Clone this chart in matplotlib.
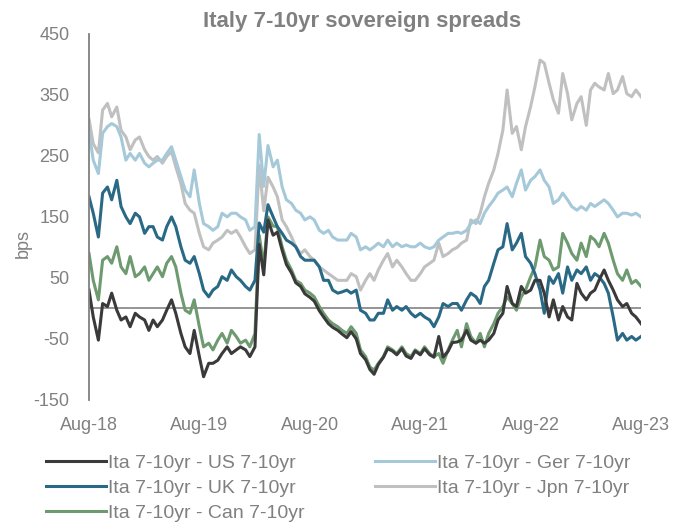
import matplotlib
matplotlib.use("Agg")
import matplotlib.pyplot as plt
import matplotlib.dates as mdates
import pandas as pd

# semi-monthly readings, Aug-18 .. Aug-23 (bps)
dates = pd.date_range("2018-08-01", "2023-08-01", freq="SMS")

us = [30, -14, -52, 8, 3, 25, -3, -19, -14, -30, -8, -14, -19, -36, -19, -30, -19, -3, 14, -8,
      -41, -63, -74, -36, -79, -112, -90, -90, -85, -74, -63, -74, -68, -63, -68, -79, -63, 105, 55, 145,
      120, 125, 95, 72, 58, 42, 36, 24, 18, 12, -4, -14, -25, -31, -36, -42, -48, -38, -50, -74,
      -84, -100, -108, -92, -80, -66, -70, -76, -66, -78, -82, -70, -76, -66, -76, -80, -46, -80, -70, -56,
      -55, -52, -36, -52, -57, -52, -57, -52, -41, -19, -8, 36, 8, 3, 36, 25, 30, 46, 46, 25,
      -14, 14, -19, 3, -14, -19, 41, 25, 14, 25, 30, 46, 63, 46, 30, 14, 3, 8, -8, -14, -25]

ger = [290, 243, 221, 287, 298, 303, 298, 281, 243, 254, 243, 254, 238, 232, 238, 243, 243, 254, 265, 243,
       216, 194, 183, 227, 172, 139, 134, 128, 134, 156, 150, 156, 156, 150, 145, 128, 134, 285, 200, 267,
       232, 243, 199, 178, 172, 161, 156, 145, 150, 145, 128, 123, 128, 117, 112, 112, 112, 123, 117, 96,
       101, 96, 101, 107, 101, 112, 101, 107, 101, 104, 101, 101, 107, 101, 98, 101, 112, 117, 123, 123,
       125, 123, 128, 139, 145, 139, 156, 167, 178, 189, 194, 199, 183, 205, 227, 194, 210, 216, 227, 210,
       199, 172, 178, 189, 178, 167, 161, 167, 161, 172, 167, 172, 178, 172, 161, 150, 156, 156, 153, 156, 150]

uk = [183, 156, 117, 189, 199, 178, 210, 167, 150, 139, 156, 150, 123, 134, 134, 117, 112, 134, 150, 134,
      101, 79, 74, 85, 57, 30, 19, 30, 36, 52, 46, 63, 52, 46, 36, 30, 46, 140, 125, 170,
      150, 134, 123, 112, 107, 101, 85, 79, 79, 79, 68, 46, 46, 30, 25, 27, 30, 25, 30, -3,
      -8, -19, -19, -8, -8, 14, -3, 3, -3, 3, -8, -14, -8, -14, -19, -30, -14, 8, 3, 8,
      8, -3, 14, 25, 19, 8, 36, 46, 74, 96, 101, 139, 96, 107, 123, 85, 74, 57, 30, -8,
      52, 41, 57, 25, 68, 46, 63, 57, 68, 46, 57, 52, 41, 25, -14, -52, -41, -52, -46, -52, -46]

jpn = [310, 270, 255, 325, 336, 314, 330, 292, 281, 260, 276, 281, 260, 249, 243, 249, 238, 249, 257, 232,
       205, 172, 161, 156, 123, 101, 96, 107, 112, 117, 128, 123, 128, 117, 101, 90, 96, 235, 160, 215,
       199, 183, 145, 134, 117, 101, 90, 96, 85, 79, 68, 63, 57, 52, 46, 46, 46, 57, 52, 30,
       46, 57, 46, 63, 79, 90, 68, 79, 68, 57, 46, 46, 57, 68, 74, 79, 107, 85, 90, 96,
       100, 107, 112, 145, 139, 156, 183, 205, 227, 254, 292, 358, 287, 298, 260, 298, 331, 363, 407, 402,
       369, 342, 320, 385, 352, 309, 336, 347, 300, 358, 369, 363, 358, 385, 352, 358, 380, 352, 347, 358, 347]

can = [90, 46, 14, 79, 85, 74, 101, 68, 57, 85, 52, 57, 68, 46, 57, 68, 52, 74, 85, 68,
       25, -3, -8, 14, -30, -63, -57, -68, -52, -41, -57, -36, -46, -57, -52, -63, -41, 120, 70, 150,
       135, 134, 101, 79, 63, 46, 41, 30, 25, 19, 3, -8, -19, -25, -30, -36, -41, -30, -41, -68,
       -79, -96, -101, -90, -79, -63, -68, -74, -63, -74, -79, -68, -74, -63, -74, -79, -74, -90, -68, -52,
       -36, -63, -25, -46, -57, -41, -63, -41, -25, -8, 3, 19, 8, -3, 19, 30, 52, 68, 112, 85,
       79, 63, 68, 123, 107, 90, 79, 107, 85, 118, 112, 101, 123, 107, 79, 57, 46, 63, 41, 46, 36]

labels = ["Ita 7-10yr - US 7-10yr", "Ita 7-10yr - UK 7-10yr", "Ita 7-10yr - Can 7-10yr",
          "Ita 7-10yr - Ger 7-10yr", "Ita 7-10yr - Jpn 7-10yr"]
colors = ["#3a3a3a", "#2a6986", "#6e9a70", "#a6c9da", "#c0c0c0"]

plt.rcParams["font.family"] = ["Liberation Sans", "DejaVu Sans"]
plt.rcParams["axes.unicode_minus"] = False
grey = "#808080"

fig = plt.figure(figsize=(6.9, 5.29), dpi=100)
ax = fig.add_axes([0.129, 0.244, 0.80, 0.692])

# light ones behind
for s, c, lab in [(jpn, colors[4], labels[4]), (ger, colors[3], labels[3]),
                  (can, colors[2], labels[2]), (uk, colors[1], labels[1]),
                  (us, colors[0], labels[0])]:
    ax.plot(dates, s, color=c, lw=2.2, label=lab)

ax.axhline(0, color="#8c8c8c", lw=1.3, zorder=0)
ax.set_ylim(-150, 450)
ax.set_yticks(range(-150, 451, 100))
ax.set_xlim(dates[0], dates[-1])
ax.set_xticks(pd.date_range("2018-08-01", "2023-08-01", freq="12MS"))
ax.xaxis.set_major_formatter(mdates.DateFormatter("%b-%y"))

for sp in ["top", "right", "bottom"]:
    ax.spines[sp].set_visible(False)
ax.spines["left"].set_color(grey)
ax.spines["left"].set_linewidth(1.3)
ax.tick_params(length=0, labelsize=13, labelcolor=grey)
ax.tick_params(axis="x", pad=12)
ax.tick_params(axis="y", pad=14)

fig.text(0.034, 0.539, "bps", rotation=90, ha="center", va="center",
         fontsize=13, color=grey)

fig.text(0.525, 0.960, "Italy 7-10yr sovereign spreads", ha="center", va="center",
         fontsize=16, fontweight="bold", color=grey)

handles, labs = ax.get_legend_handles_labels()
order = [4, 3, 2, 1, 0]
fig.legend([handles[i] for i in order], [labs[i] for i in order], ncol=2,
           loc="upper left", bbox_to_anchor=(0.061, 0.149), frameon=False,
           fontsize=14, labelcolor=grey, handlelength=3.1, handletextpad=0.1,
           columnspacing=3.6, labelspacing=0.38, borderaxespad=0, borderpad=0.2)

fig.savefig("out.png", dpi=100)
